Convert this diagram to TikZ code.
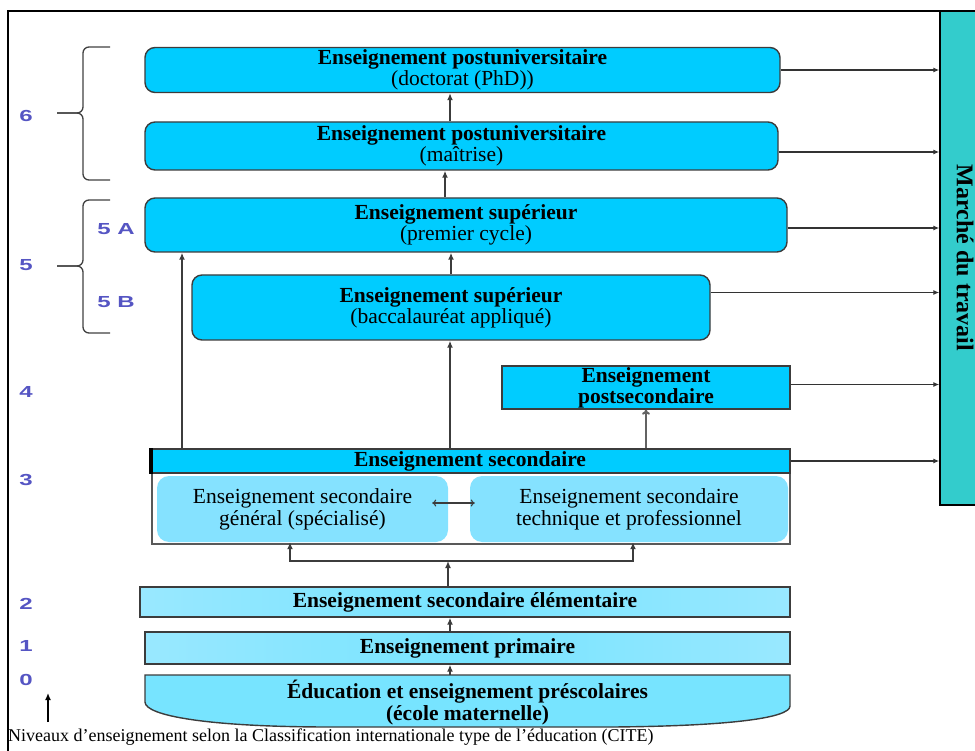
\documentclass[tikz,border=0pt]{standalone}
\usepackage{fontspec}
\setmainfont{Liberation Serif}
\newfontfamily\levelfont{Liberation Sans}
\usetikzlibrary{arrows.meta}
\definecolor{cyanbox}{RGB}{0,204,255}
\definecolor{cyanlight}{RGB}{119,228,255}
\definecolor{cyanpale}{RGB}{153,232,255}
\definecolor{cyansoft}{RGB}{133,226,255}
\definecolor{marketcol}{RGB}{51,204,204}
\definecolor{levelcol}{RGB}{85,85,195}
\definecolor{lineedge}{RGB}{60,60,60}

\begin{document}
\begin{tikzpicture} [
  x=1pt,
  y=-1pt,
  font=\fontsize{21.5}{18}\selectfont,
  box/.style={draw=lineedge, line width=1.4pt, inner sep=0pt, align=center},
  upper/.style={box, fill=cyanbox, rounded corners=10pt},
  band/.style={box, left color=cyanpale, right color=cyanpale, middle color=cyanlight},
  branch/.style={fill=cyansoft, rounded corners=12pt, inner sep=0pt, align=center, font=\fontsize{21.5}{22}\selectfont},
  grade/.style={text=levelcol, inner sep=0pt, xscale=1.5, font=\levelfont\bfseries\fontsize{16}{16}\selectfont},
  curl/.style={draw=black!75, line width=1.3pt, rounded corners=6pt},
  arr/.style={-{Latex[length=7pt,width=6pt]}, draw=lineedge, line width=1.8pt},
  job/.style={-{Latex[length=6pt,width=5pt]}, draw=black!80, line width=1.3pt}
  ]
  \useasboundingbox (0,0) rectangle (975,751);
  \draw[line width=1.6pt] (8,751) -- (8,11) -- (975,11);

  \node(market)[draw=black, line width=1.4pt, fill=marketcol, rotate=-90, inner sep=0pt, minimum width=494pt, minimum height=50pt, font=\fontsize{24}{24}\selectfont\bfseries, at={(965,258)}]{Marché du travail};

  \node(l6)[grade, at={(26,116)}]{6};
  \node(l5a)[grade, at={(116,229)}]{5 A};
  \node(l5)[grade, at={(26,265)}]{5};
  \node(l5b)[grade, at={(116,302)}]{5 B};
  \node(l4)[grade, at={(26,392)}]{4};
  \node(l3)[grade, at={(26,480)}]{3};
  \node(l2)[grade, at={(26,604)}]{2};
  \node(l1)[grade, at={(26,646)}]{1};
  \node(l0)[grade, at={(26,680)}]{0};

  \draw[curl] (110,47) -- (83,47) -- (83,113) -- (57,113);
  \draw[curl] (57,113) -- (83,113) -- (83,180) -- (110,180);
  \draw[curl] (110,200) -- (83,200) -- (83,266) -- (57,266);
  \draw[curl] (57,266) -- (83,266) -- (83,333) -- (110,333);

  \node(phd)[upper, minimum width=635pt, minimum height=45pt, at={(462.5,70)}]{\textbf{Enseignement postuniversitaire}\\(doctorat (PhD))};
  \node(master)[upper, minimum width=633pt, minimum height=48pt, at={(461.5,146)}]{\textbf{Enseignement postuniversitaire}\\(maîtrise)};
  \node(bachelor)[upper, minimum width=642pt, minimum height=54pt, at={(466,225)}]{\textbf{Enseignement supérieur}\\(premier cycle)};
  \node(applied)[upper, minimum width=518pt, minimum height=65pt, at={(451,307.5)}]{\textbf{Enseignement supérieur}\\(baccalauréat appliqué)};
  \node(postsec)[box, fill=cyanbox, minimum width=288pt, minimum height=43pt, at={(646,387.5)}]{\textbf{Enseignement}\\\textbf{postsecondaire}};

  \node(secframe)[draw=lineedge!85, line width=1.4pt, inner sep=0pt, minimum width=638pt, minimum height=95pt, at={(471,496.5)}]{};
  \node(general)[branch, minimum width=291pt, minimum height=66pt, at={(302.5,509)}]{Enseignement secondaire\\général (spécialisé)};
  \node(technical)[branch, minimum width=318pt, minimum height=66pt, at={(629,509)}]{Enseignement secondaire\\technique et professionnel};
  \node(sechead)[box, fill=cyanbox, minimum width=640pt, minimum height=24pt, at={(470,461)}]{\textbf{Enseignement secondaire}};
  \draw[line width=4pt] ([xshift=2pt]sechead.north west) -- ([xshift=2pt]sechead.south west);

  \node(elementary)[band, minimum width=650pt, minimum height=30pt, at={(465,602)}]{\textbf{Enseignement secondaire élémentaire}};
  \node(primary)[band, minimum width=645pt, minimum height=32pt, at={(467.5,648)}]{\textbf{Enseignement primaire}};

  \filldraw[fill=cyanlight, draw=lineedge, line width=1.4pt] (145,675) -- (790,675) -- (790,706) .. controls (790,718) and (730,726) .. (613,727) -- (330,727) .. controls (210,727) and (145,716) .. (145,702) -- cycle;
  \node(preschool)[inner sep=0pt, align=center, font=\fontsize{21.5}{22}\selectfont\bfseries, minimum width=645pt, minimum height=56pt, at={(467.5,703)}]{Éducation et enseignement préscolaires\\(école maternelle)};

  \node(caption)[anchor=base west, inner sep=0pt, font=\fontsize{18}{18}\selectfont, at={(8,741)}]{Niveaux d’enseignement selon la Classification internationale type de l’éducation (CITE)};

  \coordinate(foot) at (48,722);
  \coordinate(tip) at (48,693);
  \draw[arr, draw=black, line width=2.2pt] (foot) -- (tip);

  \draw[arr] ([xshift=-11.5pt]master.north) -- ([xshift=-11.5pt]master.north |- phd.south);
  \draw[arr] ([xshift=-21pt]bachelor.north) -- ([xshift=-21pt]bachelor.north |- master.south);
  \draw[arr] (applied.north) -- (applied.north |- bachelor.south);
  \draw[arr] ([xshift=-20pt]sechead.north) -- ([xshift=-20pt]sechead.north |- applied.south);
  \draw[arr] ([xshift=-288pt]sechead.north) -- ([xshift=-288pt]sechead.north |- bachelor.south);
  \draw[-{To[length=5pt,width=8pt]}, draw=lineedge!80, line width=2pt] (postsec.south |- sechead.north) -- (postsec.south);
  \draw[{To[length=4pt,width=7pt]}-{To[length=4pt,width=7pt]}, draw=lineedge, line width=1.1pt] ([xshift=-16pt,yshift=6pt]general.east) -- ([xshift=5pt,yshift=6pt]technical.west);

  \coordinate(split) at (448,561);
  \draw[arr] ([xshift=-17pt]elementary.north) -- (split);
  \draw[arr] (split) -| ([xshift=-12.5pt]general.south);
  \draw[arr] (split) -| ([xshift=4pt]technical.south);
  \draw[arr] ([xshift=-17.5pt]primary.north) -- ([xshift=-17.5pt]primary.north |- elementary.south);
  \draw[arr] ([xshift=-17.5pt]preschool.north) -- ([xshift=-17.5pt]preschool.north |- primary.south);

  \draw[job] (phd.east) -- (phd.east -| market.south);
  \draw[job] ([yshift=-6pt]master.east) -- ([yshift=-6pt]master.east -| market.south);
  \draw[job] ([yshift=-3pt]bachelor.east) -- ([yshift=-3pt]bachelor.east -| market.south);
  \draw[job] ([yshift=15pt]applied.east) -- ([yshift=15pt]applied.east -| market.south);
  \draw[job] ([yshift=3pt]postsec.east) -- ([yshift=3pt]postsec.east -| market.south);
  \draw[job] (sechead.east) -- (sechead.east -| market.south);
\end{tikzpicture}
\end{document}
